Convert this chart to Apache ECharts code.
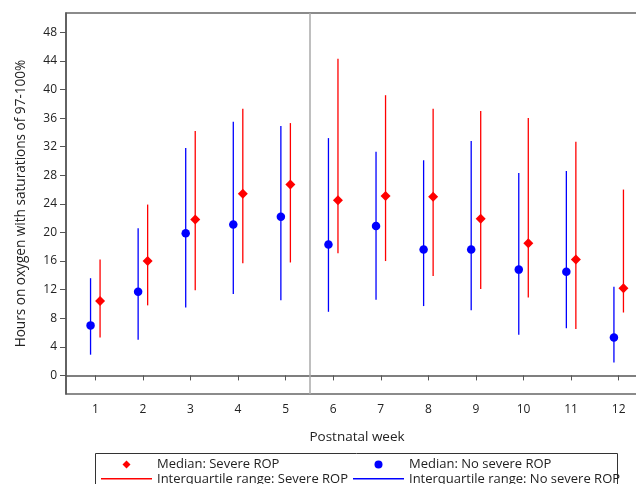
<!DOCTYPE html>
<html>
<head>
<meta charset="utf-8">
<script src="https://cdn.jsdelivr.net/npm/echarts@6/dist/echarts.min.js"></script>
<style>
  html, body { margin: 0; padding: 0; background: #fff; }
  #chart { width: 636px; height: 484px; }
</style>
</head>
<body>
<div id="chart"></div>
<script>
const weeks = [1, 2, 3, 4, 5, 6, 7, 8, 9, 10, 11, 12]
const yTicks = [0, 4, 8, 12, 16, 20, 24, 28, 32, 36, 40, 44, 48]

// severe ROP: median and interquartile range
const severeMedian = [10.4, 16.0, 21.8, 25.4, 26.7, 24.5, 25.1, 25.0, 21.9, 18.5, 16.2, 12.2]
const severeQ1 = [5.3, 9.8, 11.9, 15.7, 15.8, 17.1, 16.0, 13.9, 12.1, 10.9, 6.5, 8.8]
const severeQ3 = [16.2, 23.9, 34.2, 37.3, 35.3, 44.3, 39.2, 37.3, 37.0, 36.0, 32.7, 26.0]

// no severe ROP
const noMedian = [7.0, 11.7, 19.9, 21.1, 22.2, 18.3, 20.9, 17.6, 17.6, 14.8, 14.5, 5.3]
const noQ1 = [2.9, 5.0, 9.5, 11.4, 10.5, 8.9, 10.6, 9.7, 9.1, 5.7, 6.6, 1.8]
const noQ3 = [13.6, 20.6, 31.8, 35.5, 34.9, 33.2, 31.3, 30.1, 32.8, 28.3, 28.6, 12.4]

const splitWeek = 5.5
const dodge = 0.1

const RED = '#ff0000'
const BLUE = '#0000ff'
const FONT = 'Open Sans'

const names = {
  sevMed: 'Median: Severe ROP',
  sevIqr: 'Interquartile range: Severe ROP',
  noMed: 'Median: No severe ROP',
  noIqr: 'Interquartile range: No severe ROP'
}

function points(vals, off) {
  return weeks.map((w, i) => [w + off, vals[i]])
}
function ranges(lo, hi, off) {
  return weeks.map((w, i) => [w + off, lo[i], hi[i]])
}

function renderRange(params, api) {
  let a = api.coord([api.value(0), api.value(1)])
  let b = api.coord([api.value(0), api.value(2)])
  return {
    type: 'line',
    shape: { x1: a[0], y1: a[1], x2: b[0], y2: b[1] },
    style: { stroke: api.visual('color'), lineWidth: 1.3 }
  }
}

const lineIcon = 'path://M0,0H50V1.4H0Z'

const legendText = { fontFamily: FONT, fontSize: 13, color: '#222', lineHeight: 14 }

// one legend per entry so the two columns line up like the original
function lineItem(name, left, top) {
  return {
    left: left, top: top,
    itemWidth: 51, itemHeight: 9,
    padding: 0,
    symbolKeepAspect: true,
    selectedMode: false,
    textStyle: legendText,
    data: [{ name: name, icon: lineIcon }]
  }
}
function markerItem(name, icon, left, top) {
  return {
    left: left + 21.5, top: top,
    itemWidth: 8, itemHeight: 8,
    padding: 0,
    selectedMode: false,
    textStyle: Object.assign({}, legendText, { padding: [0, 0, 0, 21.5] }),
    data: [{ name: name, icon: icon }]
  }
}

const option = {
  animation: false,
  backgroundColor: '#fff',
  textStyle: { fontFamily: FONT },
  grid: {
    left: 66, top: 13, width: 582, bottom: 90,
    outerBoundsMode: 'none',
    containLabel: false,
    show: true, borderColor: '#666', borderWidth: 1.5
  },
  xAxis: {
    type: 'value',
    min: 0.384, max: 12.616,
    name: 'Postnatal week',
    nameLocation: 'middle',
    nameGap: 36,
    nameTextStyle: { fontFamily: FONT, fontSize: 13.5, color: '#222' },
    axisLine: { lineStyle: { color: '#555', width: 1.5 } },
    axisTick: { length: 5, lineStyle: { color: '#555' }, customValues: weeks },
    axisLabel: { customValues: weeks, fontFamily: FONT, fontSize: 12, color: '#222', margin: 10 },
    splitLine: { show: false }
  },
  yAxis: {
    type: 'value',
    min: -2.6, max: 50.7,
    name: 'Hours on oxygen with saturations of 97-100%',
    nameLocation: 'middle',
    nameGap: 38,
    nameTextStyle: { fontFamily: FONT, fontSize: 13.6, color: '#222' },
    axisLine: { show: true, lineStyle: { color: '#555', width: 1.5 } },
    axisTick: { show: true, length: 6, lineStyle: { color: '#555' }, customValues: yTicks },
    axisLabel: { customValues: yTicks, fontFamily: FONT, fontSize: 12, color: '#222', margin: 9 },
    splitLine: { show: false }
  },
  legend: [
    markerItem(names.sevMed, 'diamond', 101, 457.5),
    lineItem(names.sevIqr, 101, 471.8),
    markerItem(names.noMed, 'circle', 353, 457.5),
    lineItem(names.noIqr, 353, 471.8)
  ],
  graphic: [{
    type: 'rect',
    shape: { x: 95.5, y: 453.5, width: 522, height: 50 },
    style: { fill: 'none', stroke: '#333', lineWidth: 1 }
  }],
  series: [
    {
      name: names.noIqr,
      type: 'custom',
      itemStyle: { color: BLUE },
      renderItem: renderRange,
      encode: { x: 0, y: [1, 2] },
      data: ranges(noQ1, noQ3, -dodge),
      markLine: {
        silent: true,
        symbol: 'none',
        label: { show: false },
        lineStyle: { color: '#aaa', width: 1.5, type: 'solid' },
        data: [{ xAxis: splitWeek }]
      }
    },
    {
      name: names.sevIqr,
      type: 'custom',
      itemStyle: { color: RED },
      renderItem: renderRange,
      encode: { x: 0, y: [1, 2] },
      data: ranges(severeQ1, severeQ3, dodge)
    },
    {
      name: names.noMed,
      type: 'scatter',
      symbol: 'circle',
      symbolSize: 8.5,
      itemStyle: { color: BLUE, opacity: 1 },
      data: points(noMedian, -dodge)
    },
    {
      name: names.sevMed,
      type: 'scatter',
      symbol: 'diamond',
      symbolSize: 10,
      itemStyle: { color: RED, opacity: 1 },
      data: points(severeMedian, dodge)
    }
  ]
}

const chart = echarts.init(document.getElementById('chart'), null, { renderer: 'canvas' })
chart.setOption(option)
</script>
</body>
</html>
